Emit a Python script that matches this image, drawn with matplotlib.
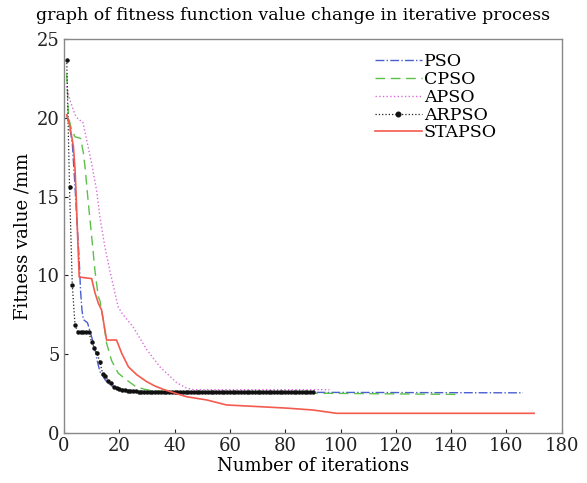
import matplotlib
matplotlib.use("Agg")
import matplotlib.pyplot as plt

plt.rcParams['font.family'] = ['DejaVu Serif']

# PSO (blue dash-dot)
pso_x = [1, 2, 3, 3.5, 4, 5, 5.5, 6, 6.5, 7, 8.5, 10, 11, 12, 13, 15, 17, 20, 23, 27, 35, 166]
pso_y = [20.2, 19.5, 18.4, 17.0, 15.6, 12.5, 11.0, 9.0, 7.8, 7.2, 7.0, 6.1, 5.5, 4.6, 3.9, 3.35, 3.0, 2.83, 2.72, 2.65, 2.6, 2.55]

# CPSO (green dashed)
cpso_x = [1, 1.6, 2.8, 4, 6, 7, 7.6, 8.8, 10, 11.2, 12.4, 13, 14.2, 15.4, 17.2, 19.6, 22.7, 25.7, 28.7, 32, 40, 143]
cpso_y = [22.8, 20.1, 19.2, 18.8, 18.7, 17.8, 16.9, 14.6, 12.5, 10.3, 8.65, 8.4, 7.2, 5.7, 4.6, 3.8, 3.36, 2.98, 2.79, 2.68, 2.6, 2.45]

# APSO (magenta dotted)
apso_x = [1, 2.2, 4, 5.2, 6.8, 8.2, 10, 11.8, 13, 14.8, 16.6, 18.4, 19.6, 21, 25.1, 29.9, 34.7, 40.7, 44.3, 47, 96]
apso_y = [22.0, 21.1, 20.2, 19.9, 19.75, 18.6, 17.1, 15.4, 13.7, 11.8, 10.3, 8.9, 8.0, 7.6, 6.7, 5.3, 4.2, 3.2, 2.85, 2.75, 2.75]

# ARPSO (black dotted with point markers), one value per iteration 1..90
arpso_y = [23.7, 15.6, 9.4, 6.85, 6.4, 6.4, 6.4, 6.4, 6.4, 5.75,
           5.4, 5.05, 4.5, 3.75, 3.6, 3.3, 3.15, 2.95, 2.85, 2.77,
           2.72, 2.7, 2.68, 2.66, 2.65, 2.64, 2.63, 2.62, 2.62, 2.62,
           2.62, 2.62, 2.62, 2.62, 2.62, 2.62, 2.62, 2.62, 2.62, 2.62,
           2.62, 2.62, 2.62, 2.62, 2.62, 2.62, 2.62, 2.62, 2.62, 2.62,
           2.62, 2.62, 2.62, 2.62, 2.62, 2.62, 2.62, 2.62, 2.62, 2.62,
           2.62, 2.62, 2.62, 2.62, 2.62, 2.62, 2.62, 2.62, 2.62, 2.62,
           2.62, 2.62, 2.62, 2.62, 2.62, 2.62, 2.62, 2.62, 2.62, 2.62,
           2.62, 2.62, 2.62, 2.62, 2.62, 2.62, 2.62, 2.62, 2.62, 2.62]
arpso_x = list(range(1, len(arpso_y) + 1))

# STAPSO (red solid)
stapso_x = [1, 2.2, 3.4, 4, 4.3, 4.8, 5.5, 10, 11.2, 12.4, 13.6, 15.4, 19, 20.9, 23.3, 26.3, 29.9, 32.9, 35.9, 40.7,
            44.4, 51.6, 58.8, 70.9, 80.5, 90, 98.6, 170]
stapso_y = [20.2, 19.4, 18.2, 16.7, 15.5, 13.1, 9.9, 9.8, 8.9, 8.25, 7.8, 5.9, 5.9, 5.05, 4.2, 3.7, 3.26, 2.98, 2.77, 2.5,
            2.3, 2.1, 1.78, 1.67, 1.58, 1.46, 1.25, 1.25]

fig = plt.figure(figsize=(5.87, 4.83), dpi=100)
ax = fig.add_axes([0.109, 0.1035, 0.848, 0.8155])

ax.plot(pso_x, pso_y, color='#4a5fd0', linestyle='-.', linewidth=1.0, label='PSO')
ax.plot(cpso_x, cpso_y, color='#5cc04a', linestyle=(0, (7, 4)), linewidth=1.0, label='CPSO')
ax.plot(apso_x, apso_y, color='#dc6cdc', linestyle=':', linewidth=1.0, label='APSO')
ax.plot(arpso_x, arpso_y, color='#222222', linestyle=':', linewidth=0.9, marker='o', markersize=2.2,
        markerfacecolor='#111111', markeredgecolor='#111111', markevery=1, label='ARPSO')
ax.plot(stapso_x, stapso_y, color='#f55a4e', linestyle='-', linewidth=1.2, label='STAPSO')

ax.set_xlim(0, 180)
ax.set_ylim(0, 25)
ax.set_xticks(range(0, 181, 20))
ax.set_yticks(range(0, 26, 5))
ax.tick_params(direction='in', length=3, labelsize=13, colors='#222222', pad=3)
for s in ax.spines.values():
    s.set_color('#888888')
    s.set_linewidth(1.0)

ax.set_xlabel('Number of iterations', fontsize=13, labelpad=1)
ax.set_ylabel('Fitness value /mm', fontsize=13, labelpad=4)
fig.suptitle('graph of fitness function value change in iterative process', fontsize=12.5, y=0.985)

leg = ax.legend(loc='upper left', bbox_to_anchor=(0.597, 1.0), frameon=False, fontsize=12.5,
                handlelength=2.7, handletextpad=0.1, labelspacing=0.05, borderaxespad=0.4,
                markerscale=1.5, numpoints=1)

fig.savefig('out.png', dpi=100)
